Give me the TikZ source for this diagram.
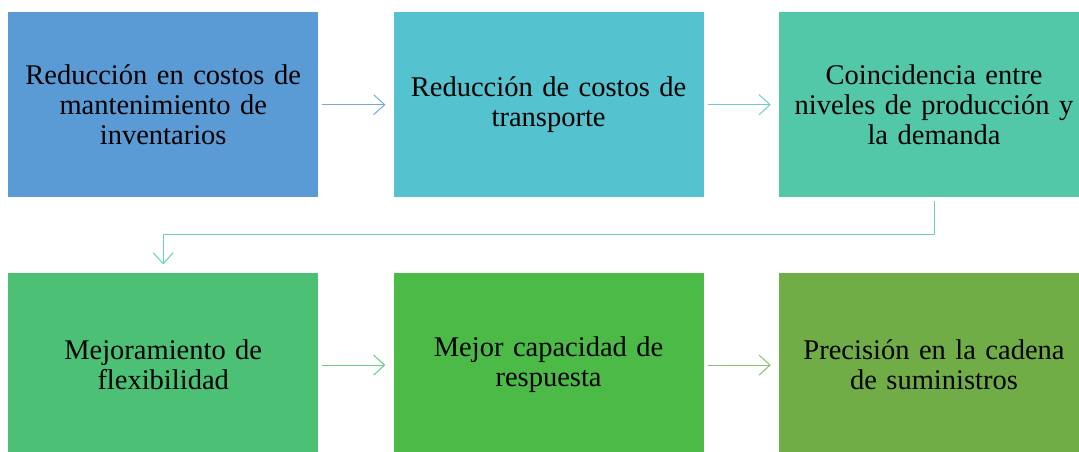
\documentclass[tikz,border=0pt]{standalone}
\usepackage{fontspec}
\setmainfont{Liberation Serif}
\usetikzlibrary{positioning,calc,arrows.meta}
\definecolor{stepA}{HTML}{5B9BD5}
\definecolor{stepB}{HTML}{55C2CF}
\definecolor{stepC}{HTML}{52C8A8}
\definecolor{stepD}{HTML}{4CC176}
\definecolor{stepE}{HTML}{4BBA47}
\definecolor{stepF}{HTML}{70AD47}
\tikzset{
    stage/.style = {
        rectangle,
        minimum width=310pt,
        minimum height=185pt,
        text width=300pt,
        align=center,
        inner sep=0pt,
        font=\fontsize{28.5}{30}\selectfont,
        },
    flow/.style = {
        draw,
        line width=1pt,
        -{Straight Barb[length=11pt,width=20pt,line width=1pt]},
        shorten <=4pt,
        shorten >=8pt,
        },
}

\begin{document}
\begin{tikzpicture}
            \useasboundingbox (0,0) rectangle (1079pt,-451pt);
            \node[stage, fill=stepA, anchor=north west] (A) at (8pt,-12pt) {Reducción en costos de\\ mantenimiento de\\ inventarios};
            \node[stage, fill=stepB, right=75pt of A] (B) {Reducción de costos de\\ transporte};
            \node[stage, fill=stepC, right=75pt of B] (C) {Coincidencia entre\\ niveles de producción y\\ la demanda};
            \node[stage, fill=stepD, below=75pt of A] (D) {Mejoramiento de\\ flexibilidad};
            \node[stage, fill=stepE, right=75pt of D] (E) {Mejor capacidad de\\ respuesta};
            \node[stage, fill=stepF, right=75pt of E] (F) {Precisión en la cadena\\ de suministros};

            \coordinate (mid) at ($(C.south)!0.5!(D.north)$);

            \path (A) edge[flow, stepA!85!white] (B);
            \path (B) edge[flow, stepB!85!white] (C);
            \draw[flow, stepC!85!white] (C.south) -- (C.south |- mid) -| (D.north);
            \path (D) edge[flow, stepD!85!white] (E);
            \path (E) edge[flow, stepF!80!white] (F);
        \end{tikzpicture}
\end{document}
